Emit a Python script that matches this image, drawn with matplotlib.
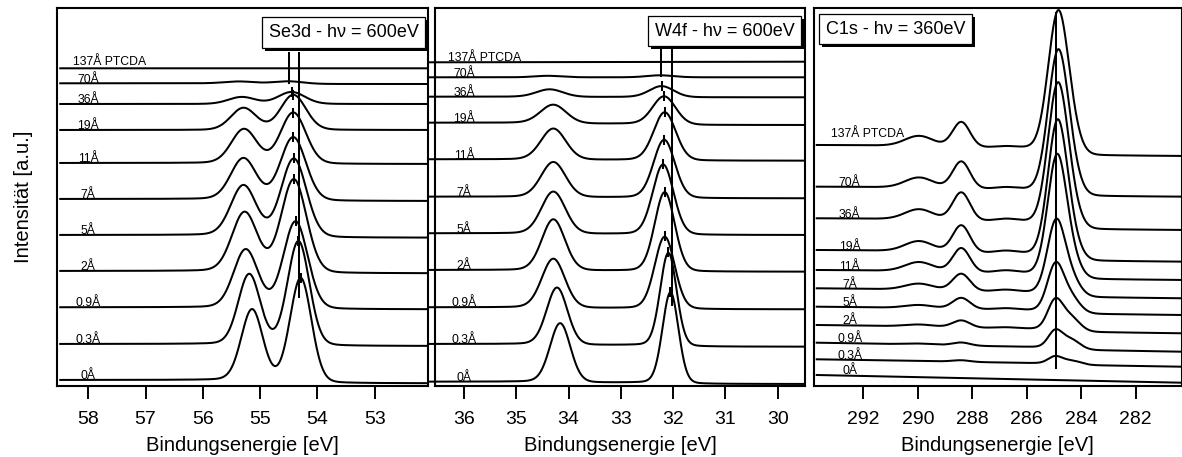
import numpy as np
import matplotlib
matplotlib.use("Agg")
import matplotlib.pyplot as plt
import matplotlib.patheffects as pe

plt.rcParams['font.family'] = ['Liberation Sans', 'DejaVu Sans']

# ---------------- data ----------------
labels = ['0Å', '0.3Å', '0.9Å', '2Å', '5Å', '7Å', '11Å', '19Å', '36Å', '70Å', '137Å PTCDA']

# Se3d panel (offsets in arbitrary intensity units)
se_base_left = [6.0, 42.0, 78.7, 115.0, 151.0, 187.0, 223.0, 256.0, 282.0, 302.7, 317.7]
se_base_right = [2.7, 40.0, 76.7, 112.7, 148.3, 185.0, 222.0, 256.0, 282.0, 302.0, 317.7]
se_d52_pos = [54.29, 54.33, 54.38, 54.41, 54.41, 54.42, 54.42, 54.42, 54.45, 54.50, 54.50]
se_d52_amp = [104, 104, 87, 93, 78, 63, 51, 35, 12, 2.5, 0]
se_d32_pos = [55.14, 55.19, 55.25, 55.27, 55.29, 55.29, 55.28, 55.29, 55.32, 55.36, 55.36]
se_d32_amp = [71, 70, 58, 59, 50, 41, 34, 22, 7, 2, 0]
se_fwhm = [0.44, 0.45, 0.50, 0.52, 0.52, 0.52, 0.52, 0.52, 0.55, 0.60, 0.60]

# W4f panel
w_base_left = [4.3, 42.0, 78.7, 116.0, 152.7, 189.3, 226.7, 263.3, 289.3, 308.7, 323.7]
w_base_right = [2.0, 39.3, 76.7, 114.3, 151.0, 187.7, 225.3, 261.0, 288.7, 308.7, 324.3]
w_f72_pos = [32.05, 32.09, 32.16, 32.16, 32.19, 32.17, 32.16, 32.17, 32.22, 32.25, 32.25]
w_f72_amp = [91, 93, 72, 79, 70, 58, 48, 28, 11, 2, 0]
w_f72_fwhm = [0.36, 0.37, 0.45, 0.45, 0.47, 0.48, 0.50, 0.52, 0.55, 0.60, 0.60]
w_f52_pos = [34.16, 34.22, 34.29, 34.29, 34.29, 34.29, 34.29, 34.29, 34.36, 34.40, 34.40]
w_f52_amp = [59, 57, 49, 51, 42, 35, 31, 18.5, 7.5, 1.5, 0]
w_f52_fwhm = [0.46, 0.47, 0.52, 0.52, 0.54, 0.55, 0.56, 0.58, 0.60, 0.60, 0.60]

# C1s panel
c_base_left = [11.0, 26.7, 43.3, 61.0, 79.3, 97.7, 116.0, 136.0, 167.7, 199.3, 241.0]
c_base_right = [3.3, 19.3, 34.3, 52.7, 71.0, 87.7, 106.0, 124.3, 156.0, 189.3, 230.0]
c_step_frac = [0.0, 0.2, 0.3, 0.4, 0.5, 0.6, 0.7, 0.75, 0.8, 0.8, 0.8]
c_main_pos = [284.95, 284.96, 284.96, 284.96, 284.95, 284.93, 284.90, 284.88, 284.87, 284.86, 284.86]
c_main_amp = [0, 7, 16, 28, 45, 70, 115, 130, 135, 135, 133]
c_main_fwhm = [0.70, 0.60, 0.60, 0.65, 0.70, 0.75, 0.80, 0.82, 0.84, 0.85, 0.85]
c_sh_pos = [284.35, 284.35, 284.40, 284.40, 284.40, 284.40, 284.40, 284.40, 284.40, 284.40, 284.40]
c_sh_amp = [0, 4, 10, 14, 16, 18, 20, 20, 20, 20, 20]
c_288_amp = [0, 1.5, 3, 7, 11, 17, 24, 27, 28, 27, 25]
c_290_amp = [0, 0, 1, 2, 3, 6, 9, 10, 10, 10, 10]
c_287_amp = [0, 0, 0, 1, 1.5, 2, 2.5, 2.5, 2.5, 2, 1.5]
c_288_pos, c_290_pos, c_287_pos = 288.40, 289.95, 286.75

# label positions (eV)
se_label_x, w_label_x, c_label_x = 58.0, 36.0, 292.5
se_ptcda_x, w_ptcda_x, c_ptcda_x = 58.27, 36.30, 293.2

# reference lines: (energy, y_top, y_bottom)
se_ref_lines = [(54.49, 333.0, 303.0), (54.316, 333.0, 88.7)]
w_ref_lines = [(32.24, 336.0, 310.0), (32.03, 336.0, 81.0)]
c_ref_lines = [(284.93, 373.0, 18.0)]


def pv(E, pos, amp, fwhm, eta=0.1):
    x = (E - pos) / (fwhm / 2.0)
    return amp * ((1 - eta) * np.exp(-np.log(2) * x ** 2) + eta / (1 + x ** 2))


def with_background(E, peaks, left, right, step_frac=1.0):
    total = peaks.sum()
    lin = (E - E.min()) / (E.max() - E.min())
    if total > 0:
        order = np.argsort(E)
        cum = np.empty_like(E)
        cum[order] = np.cumsum(peaks[order]) / total
    else:
        cum = lin
    frac = step_frac * cum + (1 - step_frac) * lin
    return peaks + right + (left - right) * frac


# ---------------- figure ----------------
W, H = 1182, 457
fig = plt.figure(figsize=(W / 100, H / 100), dpi=100)


def add_ax(l, r, t=8, b=386):
    return fig.add_axes([l / W, 1 - b / H, (r - l) / W, (b - t) / H])


ax1 = add_ax(57, 428)
ax2 = add_ax(435, 805)
ax3 = add_ax(814, 1181.5)

LW = 1.45
lab_fs = 8.8

# Se panel
E1 = np.linspace(58.49, 52.068, 1500)
for i, lab in enumerate(labels):
    pk = pv(E1, se_d52_pos[i], se_d52_amp[i], se_fwhm[i]) + pv(E1, se_d32_pos[i], se_d32_amp[i], se_fwhm[i])
    y = with_background(E1, pk, se_base_left[i], se_base_right[i])
    ax1.plot(E1, y, color='black', lw=LW)
    if se_d52_amp[i] > 5:
        ytop = (se_base_left[i] + se_base_right[i]) / 2 + se_d52_amp[i]
        ax1.plot([se_d52_pos[i]] * 2, [ytop - 4, ytop + 4], color='black', lw=LW)
    if lab.startswith('137'):
        ax1.text(se_ptcda_x, se_base_left[i] + 3, lab, fontsize=lab_fs, ha='left', va='baseline')
    else:
        ax1.text(se_label_x, se_base_left[i] + 0.8, lab, fontsize=lab_fs, ha='center', va='baseline')
for e, y0, y1 in se_ref_lines:
    ax1.plot([e, e], [y0, y1], color='black', lw=LW)

# W panel
E2 = np.linspace(36.65, 29.477, 1500)
for i, lab in enumerate(labels):
    pk = pv(E2, w_f72_pos[i], w_f72_amp[i], w_f72_fwhm[i]) + pv(E2, w_f52_pos[i], w_f52_amp[i], w_f52_fwhm[i])
    y = with_background(E2, pk, w_base_left[i], w_base_right[i])
    ax2.plot(E2, y, color='black', lw=LW, clip_on=False)
    if w_f72_amp[i] > 5:
        ytop = (w_base_left[i] + w_base_right[i]) / 2 + w_f72_amp[i]
        ax2.plot([w_f72_pos[i]] * 2, [ytop - 4, ytop + 4], color='black', lw=LW)
    if lab.startswith('137'):
        ax2.text(w_ptcda_x, w_base_left[i] + 1.5, lab, fontsize=lab_fs, ha='left', va='baseline')
    else:
        ax2.text(w_label_x, w_base_left[i] + 0.8, lab, fontsize=lab_fs, ha='center', va='baseline')
for e, y0, y1 in w_ref_lines:
    ax2.plot([e, e], [y0, y1], color='black', lw=LW)

# C panel
E3 = np.linspace(293.71, 280.32, 1500)
for i, lab in enumerate(labels):
    pk = (pv(E3, c_main_pos[i], c_main_amp[i], c_main_fwhm[i], 0.05)
          + pv(E3, c_sh_pos[i], c_sh_amp[i], 0.8, 0.05)
          + pv(E3, c_288_pos, c_288_amp[i], 0.75, 0.05)
          + pv(E3, c_290_pos, c_290_amp[i], 1.2, 0.0)
          + pv(E3, c_287_pos, c_287_amp[i], 1.0, 0.0))
    y = with_background(E3, pk, c_base_left[i], c_base_right[i], c_step_frac[i])
    ax3.plot(E3, y, color='black', lw=LW)
    if lab.startswith('137'):
        ax3.text(c_ptcda_x, c_base_left[i] + 8, lab, fontsize=lab_fs, ha='left', va='baseline')
    else:
        ax3.text(c_label_x, c_base_left[i] + 0.5, lab, fontsize=lab_fs, ha='center', va='baseline')
for e, y0, y1 in c_ref_lines:
    ax3.plot([e, e], [y0, y1], color='black', lw=LW)

# axes styling
panel_setup = [
    (ax1, (58.547, 52.068), [58, 57, 56, 55, 54, 53], 'Se3d - hν = 600eV', (0.7722, 0.9352)),
    (ax2, (36.555, 29.477), [36, 35, 34, 33, 32, 31, 30], 'W4f - hν = 600eV', (0.7821, 0.9390)),
    (ax3, (293.81, 280.32), [292, 290, 288, 286, 284, 282], 'C1s - hν = 360eV', (0.2223, 0.9444)),
]
for ax, xl, ticks, title, pos in panel_setup:
    ax.set_xlim(*xl)
    ax.set_ylim(0, 378)
    ax.set_xticks(ticks)
    ax.set_xticklabels([str(t) for t in ticks])
    ax.set_yticks([])
    ax.tick_params(axis='x', direction='out', length=9.5, width=1.4, labelsize=14, pad=8.5)
    for s in ax.spines.values():
        s.set_linewidth(1.5)
    ax.set_xlabel('Bindungsenergie [eV]', fontsize=14.5, labelpad=5.5)
    t = ax.text(pos[0], pos[1], title, transform=ax.transAxes, fontsize=13, ha='center', va='center',
                bbox=dict(boxstyle='square,pad=0.38', fc='white', ec='black', lw=0.9), zorder=5)
    t.get_bbox_patch().set_path_effects([
        pe.SimplePatchShadow(offset=(2.2, -2.2), shadow_rgbFace='black', alpha=1.0),
        pe.Normal()])

fig.text(24 / W, 1 - 197 / H, 'Intensität [a.u.]', rotation=90, ha='center', va='center', fontsize=14.5)

fig.savefig('out.png', dpi=100)
